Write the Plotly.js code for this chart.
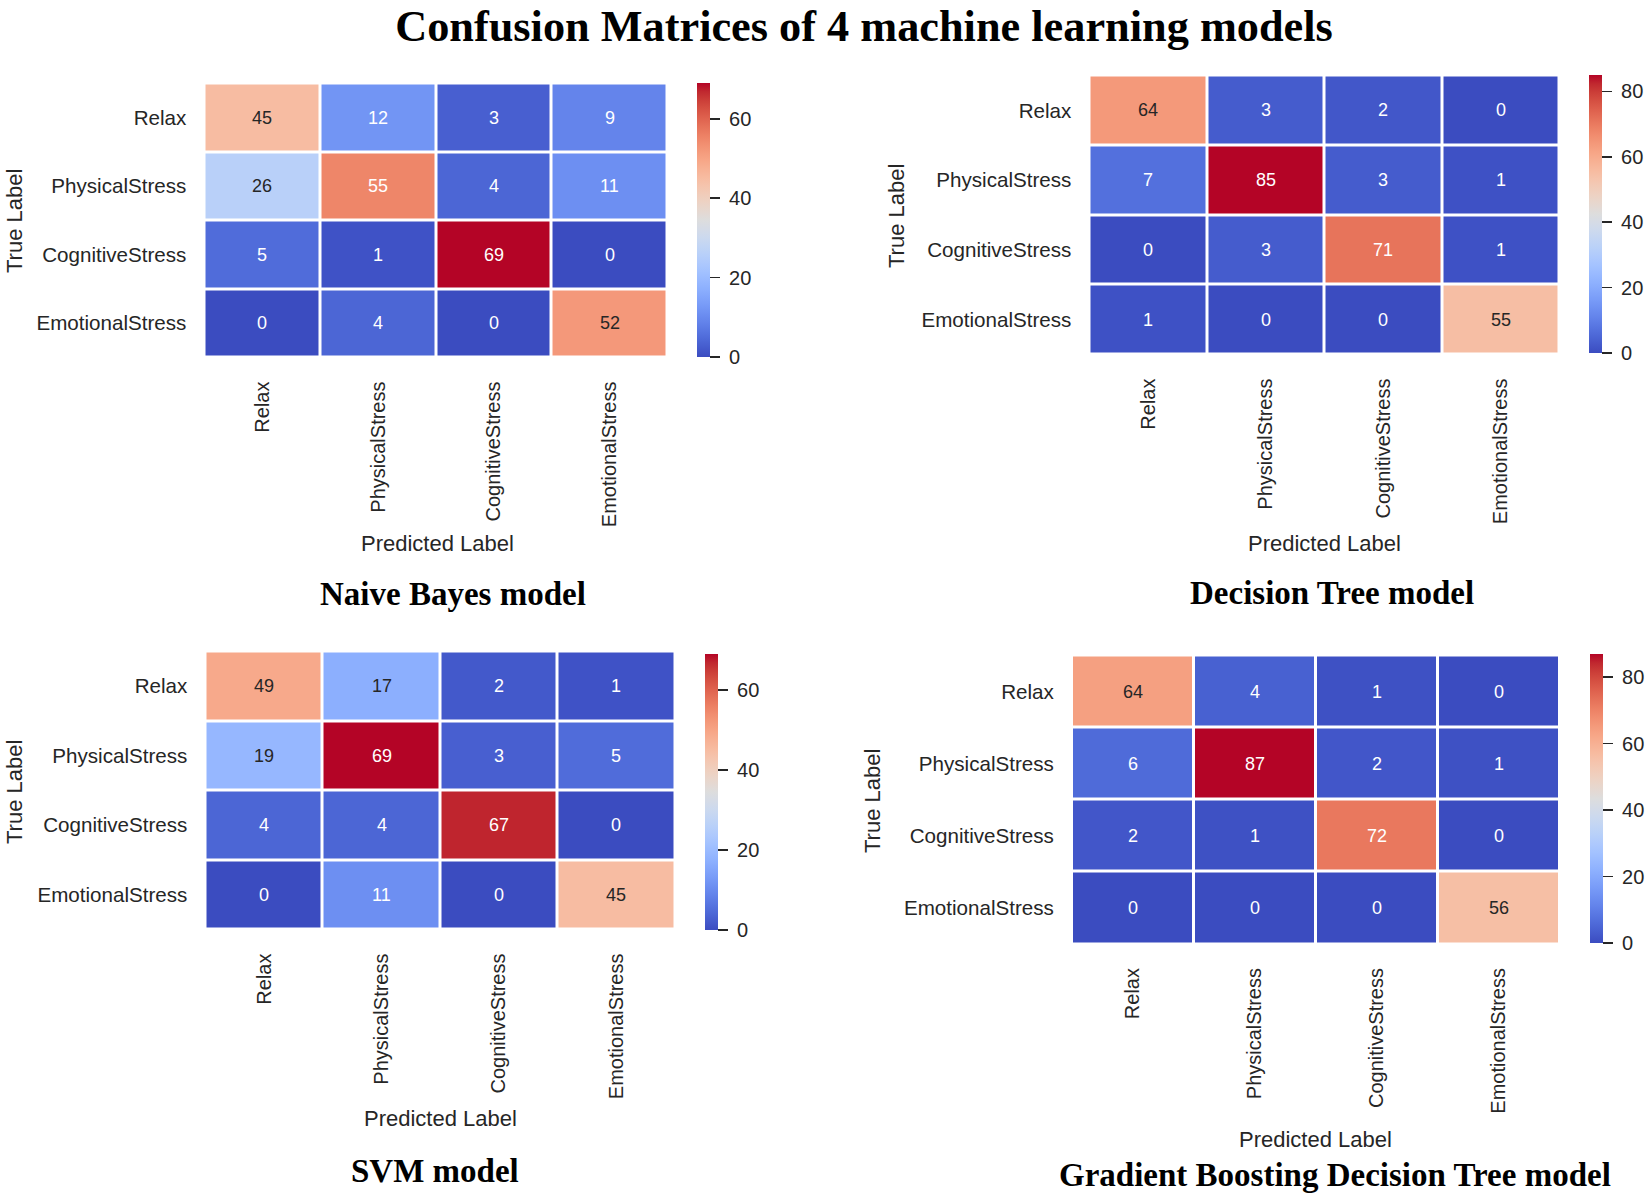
<!DOCTYPE html>
<html>
<head>
<meta charset="utf-8">
<script src="https://cdn.plot.ly/plotly-3.0.1.min.js"></script>
<style>html,body{margin:0;padding:0;background:#fff;}#chart{width:1650px;height:1196px;}</style>
</head>
<body>
<div id="chart"></div>
<script>
// ---- data ----
const classes = ['Relax', 'PhysicalStress', 'CognitiveStress', 'EmotionalStress'];
const nbValues = [[45, 12, 3, 9], [26, 55, 4, 11], [5, 1, 69, 0], [0, 4, 0, 52]];
const dtValues = [[64, 3, 2, 0], [7, 85, 3, 1], [0, 3, 71, 1], [1, 0, 0, 55]];
const svmValues = [[49, 17, 2, 1], [19, 69, 3, 5], [4, 4, 67, 0], [0, 11, 0, 45]];
const gbdtValues = [[64, 4, 1, 0], [6, 87, 2, 1], [2, 1, 72, 0], [0, 0, 0, 56]];
const modelTitles = ['Naive Bayes model', 'Decision Tree model', 'SVM model', 'Gradient Boosting Decision Tree model'];
const mainTitle = 'Confusion Matrices of 4 machine learning models';
const xLabel = 'Predicted Label';
const yLabel = 'True Label';

// coolwarm colormap (Moreland)
const cw = [[59,76,192],[68,90,204],[77,104,215],[87,117,225],[98,130,234],[108,142,241],[119,154,247],[130,165,251],[141,176,254],[152,185,255],[163,194,255],[174,201,253],[184,208,249],[194,213,244],[204,217,238],[213,219,230],[221,221,221],[229,216,209],[236,211,197],[241,204,185],[245,196,173],[247,187,160],[247,177,148],[247,166,135],[244,154,123],[241,141,111],[236,127,99],[229,112,88],[222,96,77],[213,80,66],[203,62,56],[192,40,47],[180,4,38]];
const colorscale = cw.map((c, i) => [i / (cw.length - 1), 'rgb(' + c.join(',') + ')']);
function cmap(t) {
  t = Math.max(0, Math.min(1, t));
  const p = t * (cw.length - 1);
  const i = Math.min(cw.length - 2, Math.floor(p));
  const f = p - i;
  return cw[i].map((v, k) => v + (cw[i + 1][k] - v) * f);
}
function lum(rgb) {
  const l = rgb.map(v => { v /= 255; return v <= 0.03928 ? v / 12.92 : Math.pow((v + 0.055) / 1.055, 2.4); });
  return 0.2126 * l[0] + 0.7152 * l[1] + 0.0722 * l[2];
}

const W = 1650, H = 1196;
const px = x => x / W;
const py = y => 1 - y / H;

// panel geometry (pixels)
const panels = [
  {z: nbValues,   hx: [204.5, 667.5], hy: [83.5, 357.5], cb: [697, 83, 274],  title: [453, 594],   xl: [437, 543],   yl: [15, 221]},
  {z: dtValues,   hx: [1089.5, 1559.5], hy: [75.5, 354.5], cb: [1589, 75, 278], title: [1332, 593], xl: [1324, 543],  yl: [896, 216]},
  {z: svmValues,  hx: [205.5, 675], hy: [651.5, 929.5], cb: [705, 654, 276], title: [435, 1171],  xl: [440, 1118],  yl: [14, 792]},
  {z: gbdtValues, hx: [1072, 1559.5], hy: [655.5, 944], cb: [1590, 654, 289], title: [1335, 1175], xl: [1315, 1139], yl: [872, 801]}
];

const xTickFont = {family: 'Liberation Sans, Arial, sans-serif', size: 20, color: '#262626'};
const yTickFont = {family: 'Liberation Sans, Arial, sans-serif', size: 20.6, color: '#262626'};
const labelFont = {family: 'Liberation Sans, Arial, sans-serif', size: 22, color: '#262626'};
const titleFont = {family: 'Liberation Serif, Times New Roman, serif', size: 33, color: '#000', weight: 'bold'};

const data = [];
const annotations = [];
const layout = {
  width: W, height: H,
  margin: {l: 0, r: 0, t: 0, b: 0},
  paper_bgcolor: '#fff', plot_bgcolor: '#fff',
  showlegend: false,
  title: {text: mainTitle, x: 864 / W, xanchor: 'center', y: py(25.5), yanchor: 'middle', yref: 'container',
          font: {family: 'Liberation Serif, Times New Roman, serif', size: 44.3, color: '#000', weight: 'bold'}},
  annotations: annotations
};

panels.forEach((p, k) => {
  const n = k === 0 ? '' : String(k + 1);
  const xa = 'x' + n, ya = 'y' + n;
  let zmax = 0;
  p.z.forEach(r => r.forEach(v => { if (v > zmax) zmax = v; }));
  data.push({
    type: 'heatmap', z: p.z, x: classes, y: classes, xaxis: xa, yaxis: ya,
    colorscale: colorscale, zmin: 0, zmax: zmax, xgap: 3, ygap: 3,
    hoverongaps: false,
    colorbar: {
      x: px(p.cb[0]), xanchor: 'left', y: py(p.cb[1]), yanchor: 'top',
      len: p.cb[2], lenmode: 'pixels', thickness: 13, thicknessmode: 'pixels',
      xpad: 0, ypad: 0, outlinewidth: 0,
      ticks: 'outside', ticklen: 10, tickwidth: 1.6, tickcolor: '#262626',
      tick0: 0, dtick: 20, tickprefix: '\u00a0',
      tickfont: {family: 'Liberation Sans, Arial, sans-serif', size: 20, color: '#262626'}
    }
  });
  layout['xaxis' + n] = {
    domain: [px(p.hx[0]), px(p.hx[1])], anchor: ya, type: 'category',
    showgrid: false, zeroline: false, showline: false,
    ticks: 'outside', ticklen: 15, tickcolor: 'rgba(0,0,0,0)', tickangle: -90,
    tickfont: xTickFont, fixedrange: true
  };
  layout['yaxis' + n] = {
    domain: [py(p.hy[1]), py(p.hy[0])], anchor: xa, type: 'category', autorange: 'reversed',
    showgrid: false, zeroline: false, showline: false,
    ticks: 'outside', ticklen: 13, tickcolor: 'rgba(0,0,0,0)',
    tickfont: yTickFont, fixedrange: true
  };
  // cell annotations
  p.z.forEach((row, i) => row.forEach((v, j) => {
    const c = cmap(v / zmax);
    annotations.push({
      x: classes[j], y: classes[i], xref: xa, yref: ya, text: String(v), showarrow: false,
      font: {family: 'Liberation Sans, Arial, sans-serif', size: 18, color: lum(c) > 0.408 ? '#262626' : '#ffffff'}
    });
  }));
  annotations.push({text: modelTitles[k], x: px(p.title[0]), y: py(p.title[1]), xref: 'paper', yref: 'paper',
    xanchor: 'center', yanchor: 'middle', showarrow: false, font: titleFont});
  annotations.push({text: xLabel, x: px(p.xl[0]), y: py(p.xl[1]), xref: 'paper', yref: 'paper',
    xanchor: 'center', yanchor: 'middle', showarrow: false, font: labelFont});
  annotations.push({text: yLabel, x: px(p.yl[0]), y: py(p.yl[1]), xref: 'paper', yref: 'paper',
    xanchor: 'center', yanchor: 'middle', showarrow: false, textangle: -90, font: labelFont});
});

Plotly.newPlot('chart', data, layout, {displayModeBar: false, staticPlot: true});
</script>
</body>
</html>
